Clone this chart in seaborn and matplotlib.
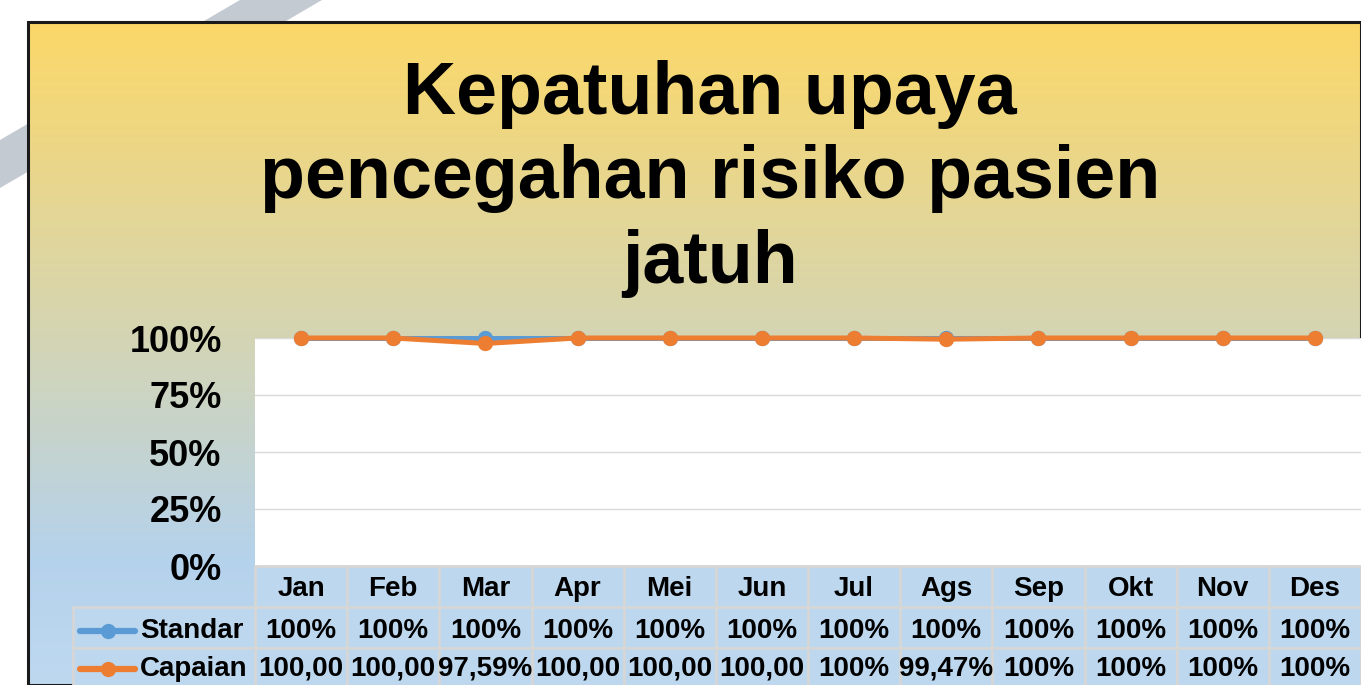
import numpy as np
import pandas as pd
import matplotlib.pyplot as plt
import seaborn as sns
from matplotlib.patches import Rectangle, Polygon
from matplotlib.lines import Line2D
from matplotlib.ticker import PercentFormatter
import matplotlib.transforms as mtransforms

# data
bulan = ["Jan", "Feb", "Mar", "Apr", "Mei", "Jun", "Jul", "Ags", "Sep", "Okt", "Nov", "Des"]
standar = [1.0, 1.0, 1.0, 1.0, 1.0, 1.0, 1.0, 1.0, 1.0, 1.0, 1.0, 1.0]
capaian = [1.0, 1.0, 0.9759, 1.0, 1.0, 1.0, 1.0, 0.9947, 1.0, 1.0, 1.0, 1.0]
standar_lbl = ["100%"] * 12
capaian_lbl = ["100,00", "100,00", "97,59%", "100,00", "100,00", "100,00",
               "100%", "99,47%", "100%", "100%", "100%", "100%"]
judul = ["Kepatuhan upaya", "pencegahan risiko pasien", "jatuh"]

warna = {"Standar": "#5B9BD5", "Capaian": "#ED7D31"}

df = pd.DataFrame({
    "bulan": bulan * 2,
    "nilai": standar + capaian,
    "seri": ["Standar"] * 12 + ["Capaian"] * 12,
})

sns.set_style("white")
plt.rcParams["font.family"] = ["Liberation Sans", "DejaVu Sans"]
plt.rcParams["font.weight"] = "bold"
plt.rcParams["text.color"] = "black"
plt.rcParams["ytick.color"] = "black"

W, H = 1361, 685
fig = plt.figure(figsize=(W / 100, H / 100), dpi=100, facecolor="white")

# grey diagonal stripe from the slide behind the chart box
px = lambda x, y: (x / W, 1 - y / H)
fig.patches.append(Polygon([px(0, 140), px(240, 0), px(322, 0), px(0, 188)],
                           closed=True, transform=fig.transFigure,
                           facecolor="#C4CAD2", edgecolor="none", zorder=0))

# chart box with yellow -> blue gradient (stops in pixel rows)
bg = fig.add_axes([28 / W, 0, 1 - 28 / W, (H - 22) / H], zorder=1)
stops_y = [22, 330, 560, 685]
stops_c = np.array([[252, 216, 104], [213, 213, 178], [181, 210, 236], [190, 216, 240]]) / 255
rows = np.linspace(22, 685, 400)
grad = np.stack([np.interp(rows, stops_y, stops_c[:, k]) for k in range(3)], axis=1)[:, None, :]
bg.imshow(grad, aspect="auto", extent=[0, 1, 0, 1], origin="upper")
bg.set_xlim(0, 1)
bg.set_ylim(0, 1)
bg.axis("off")
bg.add_patch(Rectangle((0, 0), 1, 1, transform=bg.transAxes, fill=False,
                       edgecolor="#1a1a1a", lw=2.2, clip_on=False))

# title
for txt, yb in zip(judul, [114, 198, 283]):
    fig.text(710 / W, 1 - yb / H, txt, ha="center", va="baseline",
             fontsize=53, fontweight="bold", color="black", zorder=5)

# plot area
ax = fig.add_axes([255 / W, (H - 566) / H, 1 - 255 / W, (566 - 338) / H], zorder=2)
ax.set_facecolor("white")
sns.lineplot(data=df, x="bulan", y="nilai", hue="seri", style="seri",
             markers={"Standar": "o", "Capaian": "o"}, dashes=False,
             palette=warna, sort=False, linewidth=3.6, markersize=11,
             markeredgewidth=0, legend=False, ax=ax, clip_on=False)
ax.set_xlim(-0.5, 11.5)
ax.set_ylim(0, 1)
ax.set_yticks([0, 0.25, 0.5, 0.75, 1.0])
ax.yaxis.set_major_formatter(PercentFormatter(1.0, decimals=0))
ax.tick_params(axis="y", length=0, pad=24, labelsize=26, labelcolor="black")
for lab in ax.get_yticklabels():
    lab.set_fontweight("bold")
ax.set_xticks([])
ax.set_xlabel("")
ax.set_ylabel("")
ax.grid(axis="y", color="#D9D9D9", lw=1)
for s in ax.spines.values():
    s.set_visible(False)

# data table under the plot
tr = mtransforms.blended_transform_factory(ax.transData, ax.transAxes)
rh = 41 / 228
dy = -3 / 228
sel = "#BDD7EE"
garis = "#D6D6D6"
lbl_x0 = (73 - 255) / 92.17 - 0.5
for i, b in enumerate(bulan):
    for r in range(3):
        ax.add_patch(Rectangle((i - 0.5, -rh * (r + 1)), 1, rh, transform=tr,
                               facecolor=sel, edgecolor=garis, lw=2, clip_on=False))
    ax.text(i, -rh * 0.5 + dy, b, transform=tr, ha="center", va="center",
            fontsize=20, fontweight="bold", color="black", clip_on=False)
    ax.text(i, -rh * 1.5 + dy, standar_lbl[i], transform=tr, ha="center", va="center",
            fontsize=20, fontweight="bold", color="black", clip_on=False)
    ax.text(i, -rh * 2.5, capaian_lbl[i], transform=tr, ha="center", va="center",
            fontsize=20, fontweight="bold", color="black", clip_on=False)

for r, nama in enumerate(["Standar", "Capaian"], start=1):
    ax.add_patch(Rectangle((lbl_x0, -rh * (r + 1)), -0.5 - lbl_x0, rh, transform=tr,
                           facecolor=sel, edgecolor=garis, lw=2, clip_on=False))
    yc = -rh * (r + 0.5) + (dy if r == 1 else 0)
    x_a = (80 - 255) / 92.17 - 0.5
    x_b = (135 - 255) / 92.17 - 0.5
    ax.add_line(Line2D([x_a, x_b], [yc, yc], transform=tr, color=warna[nama],
                       lw=4.5, clip_on=False))
    ax.add_line(Line2D([(x_a + x_b) / 2], [yc], transform=tr, color=warna[nama],
                       marker="o", markersize=11, markeredgewidth=0, clip_on=False))
    ax.text((140 - 255) / 92.17 - 0.5, yc, nama, transform=tr, ha="left", va="center",
            fontsize=20, fontweight="bold", color="black", clip_on=False)

fig.savefig("out.png", dpi=100, facecolor="white")
